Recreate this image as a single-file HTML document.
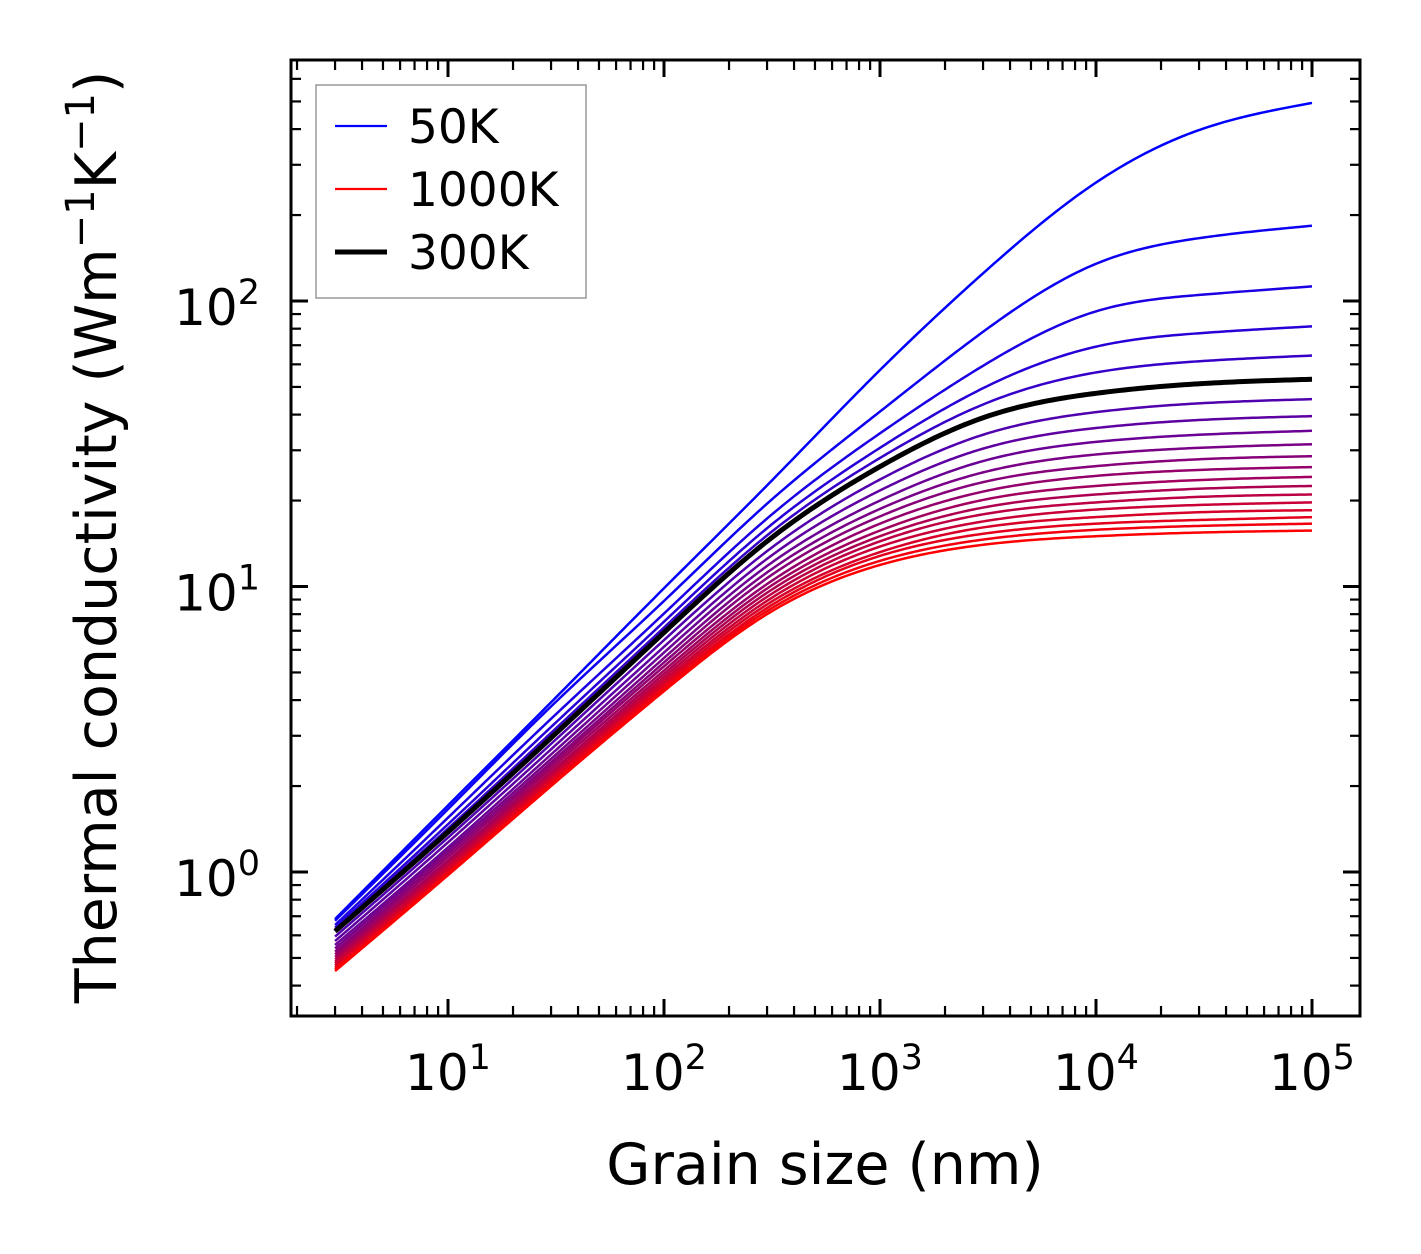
<!DOCTYPE html>
<html><head><meta charset="utf-8">
<style>
html,body{margin:0;padding:0;background:#fff;}
svg{display:block;font-family:"DejaVu Sans","Liberation Sans",sans-serif;}
</style></head>
<body>
<svg id="chart" width="1421" height="1254" viewBox="0 0 1421 1254" xmlns="http://www.w3.org/2000/svg">
<rect x="0" y="0" width="1421" height="1254" fill="#fff"/>
<g id="curves"></g>
<g id="ticks"></g>
<rect x="291" y="60" width="1069" height="956" fill="none" stroke="#000" stroke-width="3"/>
<g id="labels" font-size="50" fill="#000"></g>
<text x="825" y="1184" font-size="57" text-anchor="middle">Grain size (nm)</text>
<text transform="translate(116,537) rotate(-90)" font-size="57" text-anchor="middle">Thermal conductivity (Wm<tspan font-size="40" dy="-22">−1</tspan><tspan dy="22">K</tspan><tspan font-size="40" dy="-22">−1</tspan><tspan dy="22">)</tspan></text>
<g>
<rect x="316" y="85" width="270" height="213" fill="#fff" stroke="#999" stroke-width="1.5"/>
<line x1="335" y1="126" x2="387" y2="126" stroke="#0000ff" stroke-width="2.2"/>
<text x="408" y="143" font-size="47">50K</text>
<line x1="335" y1="189" x2="387" y2="189" stroke="#ff0000" stroke-width="2.2"/>
<text x="408" y="206" font-size="47">1000K</text>
<line x1="335" y1="252" x2="387" y2="252" stroke="#000" stroke-width="5"/>
<text x="408" y="269" font-size="47">300K</text>
</g>
</svg>
<script>
const grainSizes = [3, 10, 30, 100, 300, 1000, 3000, 10000, 30000, 100000];
const temperatures = [50,100,150,200,250,300,350,400,450,500,550,600,650,700,750,800,850,900,950,1000];
const k50 = [0.684, 1.71, 3.93, 9.86, 22.6, 57.3, 125, 260, 397, 494];
const k100 = [0.675, 1.66, 3.8, 8.9, 19.5, 41, 78, 135, 166, 183.5];
const k150 = [0.652, 1.55, 3.44, 8.04, 17.3, 34.4, 59.3, 92.0, 105, 112.5];
const k200 = [0.638, 1.47, 3.22, 7.53, 16.0, 30.6, 49.5, 69.2, 77.1, 81.5];
const k250 = [0.628, 1.42, 3.07, 7.18, 15.1, 28.2, 43.4, 56.2, 61.5, 64.4];
const k300 = [0.62, 1.38, 2.95, 6.9, 14.4, 26.3, 39, 47.5, 51.3, 53.2];
const k350 = [0.594, 1.32, 2.81, 6.49, 13.3, 23.7, 34.0, 40.8, 43.8, 45.3];
const k400 = [0.573, 1.27, 2.69, 6.15, 12.5, 21.7, 30.4, 35.9, 38.3, 39.5];
const k450 = [0.555, 1.22, 2.58, 5.87, 11.8, 20.0, 27.5, 32.1, 34.0, 35.1];
const k500 = [0.540, 1.19, 2.49, 5.62, 11.2, 18.7, 25.1, 29.0, 30.6, 31.5];
const k550 = [0.526, 1.16, 2.42, 5.42, 10.7, 17.6, 23.2, 26.4, 27.9, 28.6];
const k600 = [0.515, 1.13, 2.36, 5.25, 10.2, 16.6, 21.5, 24.4, 25.6, 26.2];
const k650 = [0.504, 1.10, 2.30, 5.08, 9.84, 15.7, 20.1, 22.5, 23.6, 24.2];
const k700 = [0.494, 1.08, 2.24, 4.94, 9.51, 15.0, 18.9, 21.0, 22.0, 22.5];
const k750 = [0.485, 1.06, 2.19, 4.81, 9.20, 14.4, 17.9, 19.7, 20.6, 21.0];
const k800 = [0.478, 1.04, 2.15, 4.69, 8.91, 13.8, 16.9, 18.6, 19.3, 19.7];
const k850 = [0.470, 1.02, 2.11, 4.58, 8.65, 13.2, 16.1, 17.5, 18.2, 18.5];
const k900 = [0.462, 1.00, 2.07, 4.48, 8.41, 12.8, 15.3, 16.6, 17.1, 17.5];
const k950 = [0.456, 0.99, 2.03, 4.39, 8.20, 12.3, 14.6, 15.8, 16.3, 16.6];
const k1000 = [0.45, 0.975, 2.0, 4.3, 8.0, 11.9, 14.0, 15.0, 15.45, 15.7];
const series = [k50,k100,k150,k200,k250,k300,k350,k400,k450,k500,k550,k600,k650,k700,k750,k800,k850,k900,k950,k1000];
const highlightTemp = 300;
const xTickLabels = ["1","2","3","4","5"];
const yTickLabels = ["0","1","2"];

const NS = "http://www.w3.org/2000/svg";
const X0 = 448, XPD = 216;
const Y0 = 872, YPD = 285.5;
function xs(v){ return X0 + (Math.log10(v) - 1) * XPD; }
function ys(v){ return Y0 - Math.log10(v) * YPD; }

function spline(xa, ya, n){
  const m = xa.length, h = [], al = [], l = [1], mu = [0], z = [0], c = new Array(m).fill(0), b = [], d = [];
  for (let i=0;i<m-1;i++) h.push(xa[i+1]-xa[i]);
  for (let i=1;i<m-1;i++) al[i] = 3/h[i]*(ya[i+1]-ya[i]) - 3/h[i-1]*(ya[i]-ya[i-1]);
  for (let i=1;i<m-1;i++){
    l[i] = 2*(xa[i+1]-xa[i-1]) - h[i-1]*mu[i-1];
    mu[i] = h[i]/l[i];
    z[i] = (al[i]-h[i-1]*z[i-1])/l[i];
  }
  l[m-1]=1; z[m-1]=0;
  for (let j=m-2;j>=0;j--){
    c[j] = z[j] - mu[j]*c[j+1];
    b[j] = (ya[j+1]-ya[j])/h[j] - h[j]*(c[j+1]+2*c[j])/3;
    d[j] = (c[j+1]-c[j])/(3*h[j]);
  }
  const pts = [];
  for (let k=0;k<=n;k++){
    const x = xa[0] + (xa[m-1]-xa[0])*k/n;
    let i=0; while(i<m-2 && x>xa[i+1]) i++;
    const dx = x - xa[i];
    pts.push([x, ya[i] + b[i]*dx + c[i]*dx*dx + d[i]*dx*dx*dx]);
  }
  return pts;
}

const curves = document.getElementById('curves');
const lx = grainSizes.map(v => Math.log10(v));
function drawCurve(vals, color, width, name){
  const pts = spline(lx, vals.map(v => Math.log10(v)), 300);
  const p = document.createElementNS(NS,'path');
  p.setAttribute('d', pts.map((q,i)=>(i?'L':'M')+xs(Math.pow(10,q[0])).toFixed(2)+' '+ys(Math.pow(10,q[1])).toFixed(2)).join(''));
  p.setAttribute('fill','none'); p.setAttribute('stroke',color); p.setAttribute('stroke-width',width);
  p.setAttribute('stroke-linejoin','round');
  
  
  curves.appendChild(p);
}
series.forEach((s,i)=>{
  const t = i/(series.length-1);
  const col = 'rgb('+Math.round(255*t)+',0,'+Math.round(255*(1-t))+')';
  drawCurve(s, col, 2.5, 'curve-' + temperatures[i] + 'k');
});
drawCurve(series[temperatures.indexOf(highlightTemp)], '#000', 5, 'curve-300k-highlight');

const ticks = document.getElementById('ticks');
function tick(x1,y1,x2,y2,w,name){
  const l=document.createElementNS(NS,'line');
  l.setAttribute('x1',x1);l.setAttribute('y1',y1);l.setAttribute('x2',x2);l.setAttribute('y2',y2);
  l.setAttribute('stroke','#000');l.setAttribute('stroke-width',w);
  
  
  ticks.appendChild(l);
}
const L=291,R=1360,T=60,B=1016;
for (let e=0;e<=5;e++){
  for (let m=1;m<10;m++){
    const v=m*Math.pow(10,e), x=xs(v);
    if (x<L||x>R) continue;
    const len = m===1?17:10, w = m===1?3:2.2;
    tick(x,B,x,B-len,w,'x-tick'); tick(x,T,x,T+len,w,'x-tick');
  }
}
for (let e=-1;e<=2;e++){
  for (let m=1;m<10;m++){
    const v=m*Math.pow(10,e), y=ys(v);
    if (y<T||y>B) continue;
    const len = m===1?17:10, w = m===1?3:2.2;
    tick(L,y,L+len,y,w,'y-tick'); tick(R,y,R-len,y,w,'y-tick');
  }
}
const labels = document.getElementById('labels');
xTickLabels.forEach(s=>{
  const x = xs(Math.pow(10, +s));
  const t=document.createElementNS(NS,'text');
  t.setAttribute('x', x); t.setAttribute('y', 1090); t.setAttribute('text-anchor','middle');
  
  
  t.innerHTML = '10<tspan font-size="35" dy="-21">'+s+'</tspan>';
  labels.appendChild(t);
});
yTickLabels.forEach(s=>{
  const y = ys(Math.pow(10, +s));
  const t=document.createElementNS(NS,'text');
  t.setAttribute('x', 260); t.setAttribute('y', y+24); t.setAttribute('text-anchor','end');
  
  
  t.innerHTML = '10<tspan font-size="35" dy="-21">'+s+'</tspan>';
  labels.appendChild(t);
});
</script>
</body></html>
